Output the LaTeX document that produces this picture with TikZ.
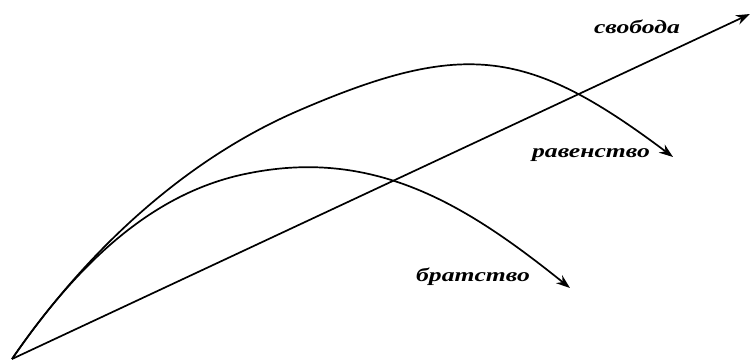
\documentclass[tikz,border=0pt]{standalone}
\usepackage{fontspec}
\newfontfamily\labelfont[FakeStretch=1.35]{Liberation Serif}
\usetikzlibrary{arrows.meta}

\begin{document}
\begin{tikzpicture}[x=1pt, y=-1pt,
  arr/.style={line width=1.7pt, -{Stealth[length=14pt, width=10pt]}},
  lbl/.style={font=\labelfont\bfseries\itshape\fontsize{19}{21}\selectfont, inner sep=0pt}]
  \useasboundingbox (0,0) rectangle (753,361);

  % Origin, bends and tips
  \coordinate (o) at (12,359);
  \coordinate (svtip) at (750,14);
  \coordinate (ravmid) at (300,110);
  \coordinate (ravtip) at (673,157);
  \coordinate (brmid) at (250,173);
  \coordinate (brtip) at (570,288);

  % Arrows
  \draw[arr] (o) -- (svtip);
  \draw[arr] (o) .. controls (84,254) and (183,160) .. (ravmid)
                 .. controls (465,39) and (529,49) .. (ravtip);
  \draw[arr] (o) .. controls (84,254) and (160,190) .. (brmid)
                 .. controls (377,148) and (469,207) .. (brtip);

  % Labels
  \node[lbl] (sv) at (637,27) {свобода};
  \node[lbl] (rav) at (591,155) {равенство};
  \node[lbl] (br) at (473,277) {братство};
\end{tikzpicture}
\end{document}
